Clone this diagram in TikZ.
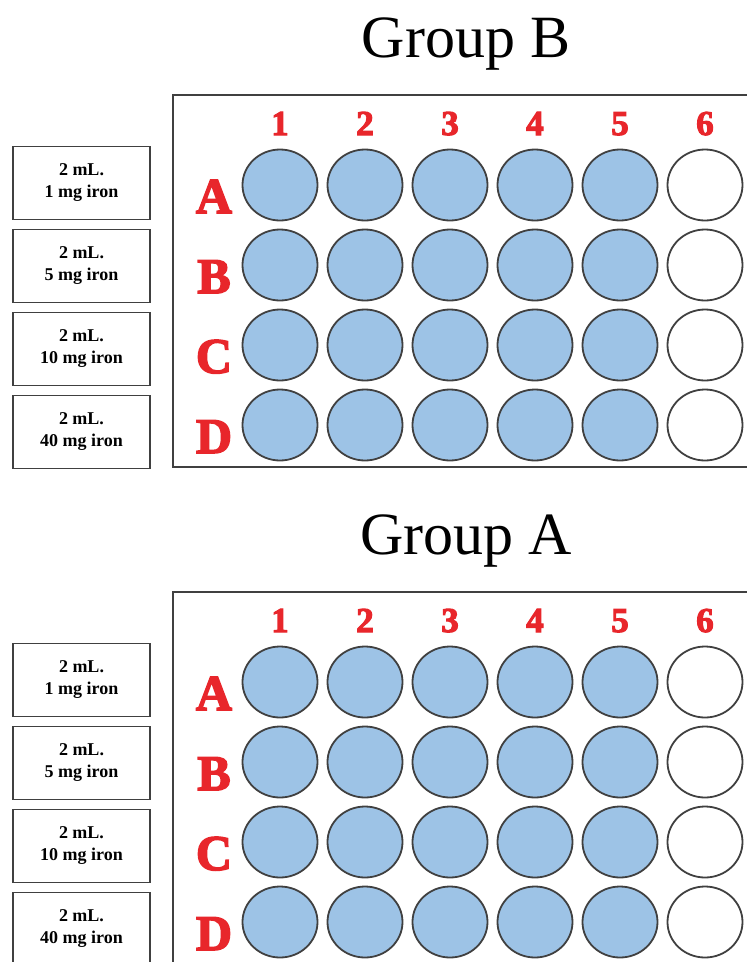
\documentclass[tikz,border=0pt]{standalone}
\usepackage{fontspec}
\setmainfont{Liberation Serif}
\newfontfamily\slabfont{Liberation Serif}[BoldFeatures={FakeBold=3}]
\usetikzlibrary{shapes.geometric}
\definecolor{wellblue}{HTML}{9DC3E6}
\definecolor{platered}{HTML}{E8262B}
\definecolor{rimgray}{HTML}{404040}

\begin{document}
\begin{tikzpicture}[x=1pt,y=-1pt,
    every node/.style={inner sep=0pt},
    plate/.style={draw=rimgray,line width=2.4pt},
    well/.style={ellipse,draw=rimgray,line width=1.8pt,minimum width=75pt,minimum height=71pt},
    filledwell/.style={well,fill=wellblue},
    blankwell/.style={well,fill=white},
    rowlabel/.style={anchor=base,text=platered,font=\slabfont\bfseries\fontsize{50}{50}\selectfont},
    collabel/.style={anchor=base,text=platered,font=\slabfont\bfseries\fontsize{35}{35}\selectfont},
    dosebox/.style={draw=rimgray,line width=1.8pt,minimum width=137pt,minimum height=73pt,
        align=center,font=\bfseries\fontsize{18}{22}\selectfont},
    grouptitle/.style={anchor=base,font=\fontsize{60}{62}\selectfont}]
    \useasboundingbox (0,0) rectangle (747,962);
    \clip (0,0) rectangle (747,962);
    % one block per plate, Group A sits 497pt lower
    \foreach \g/\dy in {B/0,A/497} {
        \node[grouptitle] (title\g) at (466,57+\dy) {Group \g};
        \draw[plate] (173,95+\dy) rectangle (755,467+\dy);
        \foreach \c/\x in {1/280,2/365,3/450,4/535,5/620,6/705}
            \node[collabel] (col\g\c) at (\x,135+\dy) {\c};
        \foreach \r/\y/\mg/\by in {A/185/1/183,B/265/5/266,C/345/10/349,D/425/40/432} {
            \node[dosebox] (dose\g\r) at (81.5,\by+\dy) {2 mL.\\\mg\ mg iron};
            \node[rowlabel] (row\g\r) at (214,\y+28+\dy) {\r};
            \foreach \c/\x in {1/280,2/365,3/450,4/535,5/620}
                \node[filledwell] (\g\r\c) at (\x,\y+\dy) {};
            \node[blankwell] (\g\r6) at (705,\y+\dy) {};
        }
    }
\end{tikzpicture}
\end{document}
